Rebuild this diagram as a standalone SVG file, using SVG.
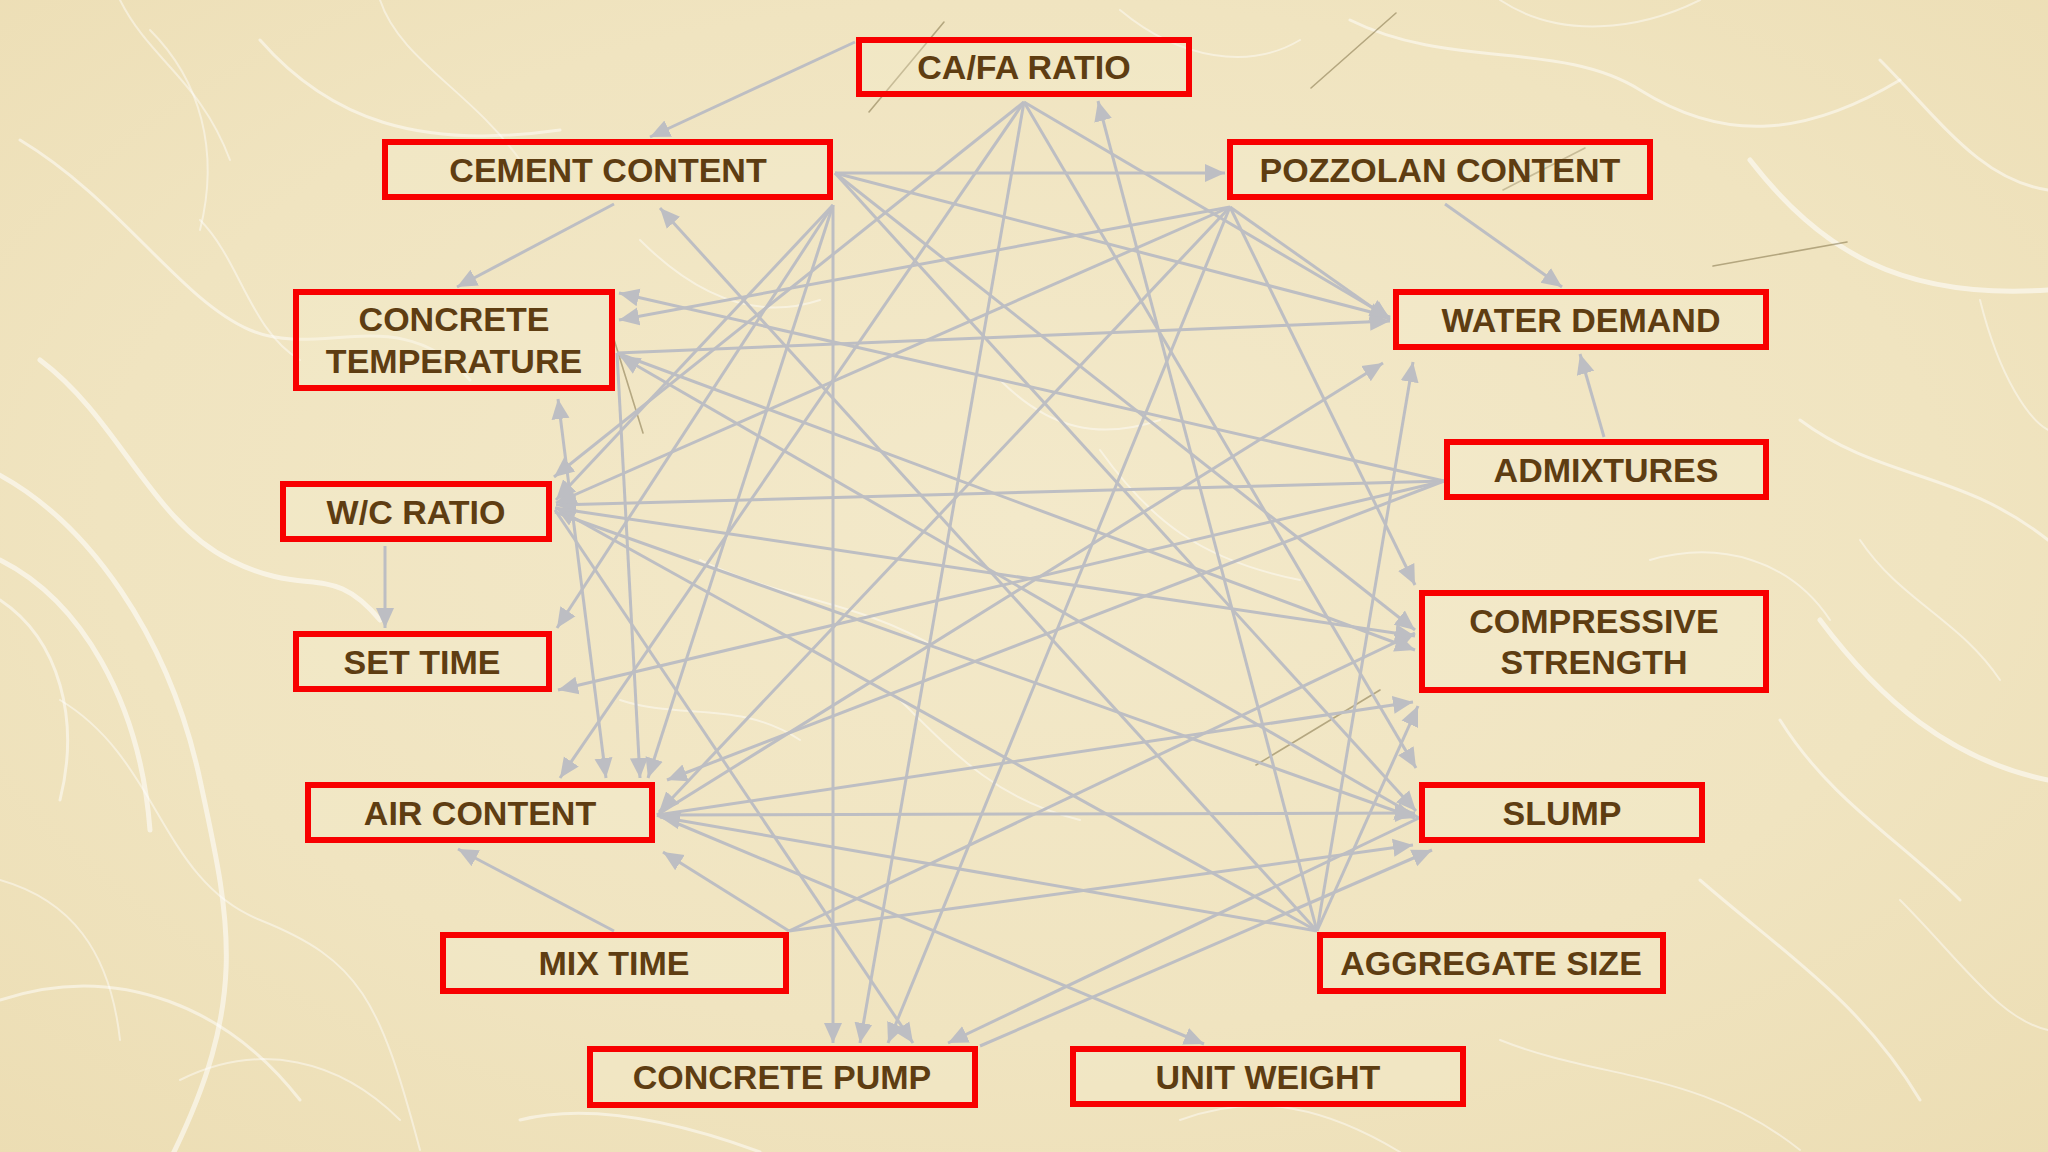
<svg xmlns="http://www.w3.org/2000/svg" width="2048" height="1152" viewBox="0 0 2048 1152">
<defs>
<radialGradient id="paper" cx="50%" cy="45%" r="75%">
<stop offset="0" stop-color="#F3E9CA"/>
<stop offset="0.6" stop-color="#F0E4C0"/>
<stop offset="1" stop-color="#ECDDB3"/>
</radialGradient>
<marker id="ah" viewBox="0 0 20 20" refX="20" refY="10" markerWidth="20" markerHeight="20" markerUnits="userSpaceOnUse" orient="auto-start-reverse">
<path d="M0,1 L20,10 L0,19 z" fill="#BDBEC3"/>
</marker>
<style>
.fib{fill:none;stroke:#FFFFFF;stroke-linecap:round}
.f1{stroke-width:5;stroke-opacity:.55}
.f2{stroke-width:3;stroke-opacity:.5}
.f3{stroke-width:2;stroke-opacity:.45}
.dk{fill:none;stroke:#6B5A2E;stroke-linecap:round;stroke-width:1.6;opacity:.45}
.box{fill:#F5EDD2;fill-opacity:.3;stroke:#F80000;stroke-width:6}
.lbl{font-family:"Liberation Sans",Arial,sans-serif;font-weight:bold;font-size:34px;fill:#5E3D12;text-anchor:middle}
#connectors line{stroke:#BDBEC3;stroke-width:3;marker-end:url(#ah)}
</style>
</defs>
<g id="background">
<rect x="0" y="0" width="2048" height="1152" fill="url(#paper)"/>
<g class="fib">
<path class="f1" d="M-10,470 C90,520 170,640 200,780 S250,1000 170,1160"/>
<path class="f1" d="M0,560 C80,600 140,700 150,830"/>
<path class="f2" d="M0,600 C60,640 80,720 60,800"/>
<path class="f1" d="M40,360 C120,420 150,520 230,560 S330,560 380,620"/>
<path class="f2" d="M20,140 C120,200 180,300 250,330 S400,300 470,380"/>
<path class="f2" d="M260,40 C330,120 420,150 560,130"/>
<path class="f3" d="M380,0 C400,60 470,90 520,160"/>
<path class="f3" d="M120,0 C150,60 200,80 230,160"/>
<path class="f2" d="M0,1000 C120,960 230,1010 300,1100"/>
<path class="f3" d="M60,700 C160,760 160,880 260,920 S380,1000 420,1150"/>
<path class="f3" d="M0,880 C70,900 110,950 120,1040"/>
<path class="f3" d="M180,1080 C260,1040 340,1060 400,1120"/>
<path class="f2" d="M520,1120 C600,1100 700,1130 760,1152"/>
<path class="f3" d="M200,220 C240,260 250,330 300,360"/>
<path class="f2" d="M1350,20 C1450,70 1560,40 1640,90 S1800,140 1900,80"/>
<path class="f3" d="M1500,0 C1560,40 1640,30 1700,0"/>
<path class="f1" d="M1750,160 C1820,250 1900,300 2048,290"/>
<path class="f2" d="M1880,60 C1940,120 1980,180 2048,190"/>
<path class="f2" d="M1800,420 C1880,480 1960,470 2048,540"/>
<path class="f1" d="M1820,620 C1880,700 1950,760 2048,780"/>
<path class="f3" d="M1860,540 C1900,600 1960,620 2000,680"/>
<path class="f2" d="M1700,880 C1780,950 1860,1000 1920,1100"/>
<path class="f3" d="M1500,1040 C1600,1080 1700,1070 1800,1150"/>
<path class="f3" d="M1900,900 C1960,960 2000,1020 2048,1030"/>
<path class="f2" d="M1780,720 C1830,800 1900,840 1960,900"/>
<path class="f3" d="M1980,300 C2000,380 2030,420 2048,430"/>
<path class="f3" d="M1120,10 C1180,60 1250,70 1300,40"/>
<path class="f3" d="M1180,1120 C1260,1090 1330,1110 1400,1152"/>
<path class="f3" d="M700,560 C780,600 860,600 940,650"/>
<path class="f3" d="M1100,450 C1150,520 1200,560 1300,580"/>
<path class="f3" d="M900,700 C960,760 1000,800 1080,820"/>
<path class="f3" d="M150,30 C200,80 220,150 200,230"/>
<path class="f3" d="M1650,560 C1720,540 1790,560 1830,620"/>
<path class="f3" d="M640,240 C700,300 760,320 820,300"/>
<path class="f3" d="M1000,380 C1050,430 1100,440 1160,420"/>
<path class="f3" d="M620,700 C680,720 740,700 800,740"/>
</g>
<path class="dk" d="M869,112 L944,22"/>
<path class="dk" d="M1311,88 L1396,13"/>
<path class="dk" stroke-width="2.2" d="M1713,266 L1847,242"/>
<path class="dk" d="M612,333 L643,433"/>
<path class="dk" d="M1256,765 L1380,690"/>
<path class="dk" stroke-width="1.2" d="M1503,190 L1585,148"/>
</g>
<g id="connectors">
<line x1="855" y1="42" x2="650" y2="137"/>
<line x1="614" y1="204" x2="457" y2="287"/>
<line x1="835" y1="173" x2="1225" y2="173"/>
<line x1="1445" y1="204" x2="1562" y2="287"/>
<line x1="1604" y1="437" x2="1580" y2="354"/>
<line x1="385" y1="546" x2="385" y2="628"/>
<line x1="614" y1="931" x2="458" y2="849"/>
<line x1="1317" y1="931" x2="1098" y2="101"/>
<line x1="1317" y1="931" x2="660" y2="208"/>
<line x1="833" y1="205" x2="833" y2="1043"/>
<line x1="1024" y1="102" x2="860" y2="1043"/>
<line x1="1230" y1="207" x2="888" y2="1043"/>
<line x1="1024" y1="102" x2="554" y2="477"/>
<line x1="835" y1="173" x2="1390" y2="317"/>
<line x1="1230" y1="207" x2="1390" y2="320"/>
<line x1="617" y1="353" x2="1390" y2="321"/>
<line x1="1024" y1="102" x2="1390" y2="318"/>
<line x1="1230" y1="207" x2="619" y2="320"/>
<line x1="1444" y1="481" x2="619" y2="293"/>
<line x1="1444" y1="481" x2="556" y2="505"/>
<line x1="1444" y1="481" x2="558" y2="690"/>
<line x1="1317" y1="931" x2="556" y2="508"/>
<line x1="606" y1="778" x2="558" y2="399" style="marker-start:url(#ah)"/>
<line x1="617" y1="353" x2="640" y2="778"/>
<line x1="833" y1="205" x2="648" y2="778"/>
<line x1="1444" y1="481" x2="667" y2="780"/>
<line x1="1024" y1="102" x2="560" y2="778"/>
<line x1="789" y1="931" x2="663" y2="852"/>
<line x1="1230" y1="207" x2="659" y2="812"/>
<line x1="657" y1="815" x2="1383" y2="363"/>
<line x1="1317" y1="931" x2="1413" y2="362"/>
<line x1="657" y1="815" x2="1415" y2="813"/>
<line x1="657" y1="815" x2="1204" y2="1044"/>
<line x1="1317" y1="931" x2="660" y2="817"/>
<line x1="657" y1="815" x2="1413" y2="702"/>
<line x1="1317" y1="931" x2="1418" y2="706"/>
<line x1="789" y1="931" x2="1415" y2="633"/>
<line x1="789" y1="931" x2="1413" y2="845"/>
<line x1="980" y1="1046" x2="1432" y2="850"/>
<line x1="1419" y1="818" x2="948" y2="1043"/>
<line x1="555" y1="510" x2="913" y2="1043"/>
<line x1="555" y1="508" x2="1415" y2="636"/>
<line x1="617" y1="353" x2="1415" y2="650"/>
<line x1="1419" y1="818" x2="620" y2="356"/>
<line x1="835" y1="173" x2="1415" y2="630"/>
<line x1="835" y1="173" x2="1416" y2="811"/>
<line x1="1230" y1="207" x2="1415" y2="585"/>
<line x1="1024" y1="102" x2="1416" y2="768"/>
<line x1="833" y1="205" x2="557" y2="628"/>
<line x1="1230" y1="207" x2="556" y2="503"/>
<line x1="833" y1="205" x2="556" y2="500"/>
<line x1="555" y1="512" x2="1415" y2="818"/>
</g>
<g id="node-cafa-ratio"><rect class="box" x="859" y="40" width="330" height="54"/><text class="lbl" x="1024" y="79">CA/FA RATIO</text></g>
<g id="node-cement-content"><rect class="box" x="385" y="142" width="445" height="55"/><text class="lbl" x="608" y="182">CEMENT CONTENT</text></g>
<g id="node-pozzolan-content"><rect class="box" x="1230" y="142" width="420" height="55"/><text class="lbl" x="1440" y="182">POZZOLAN CONTENT</text></g>
<g id="node-concrete-temperature"><rect class="box" x="296" y="292" width="316" height="96"/><text class="lbl" x="454" y="331">CONCRETE</text><text class="lbl" x="454" y="373">TEMPERATURE</text></g>
<g id="node-water-demand"><rect class="box" x="1396" y="292" width="370" height="55"/><text class="lbl" x="1581" y="332">WATER DEMAND</text></g>
<g id="node-admixtures"><rect class="box" x="1447" y="442" width="319" height="55"/><text class="lbl" x="1606" y="482">ADMIXTURES</text></g>
<g id="node-wc-ratio"><rect class="box" x="283" y="484" width="266" height="55"/><text class="lbl" x="416" y="524">W/C RATIO</text></g>
<g id="node-set-time"><rect class="box" x="296" y="634" width="253" height="55"/><text class="lbl" x="422" y="674">SET TIME</text></g>
<g id="node-compressive-strength"><rect class="box" x="1422" y="593" width="344" height="97"/><text class="lbl" x="1594" y="633">COMPRESSIVE</text><text class="lbl" x="1594" y="674">STRENGTH</text></g>
<g id="node-air-content"><rect class="box" x="308" y="785" width="344" height="55"/><text class="lbl" x="480" y="825">AIR CONTENT</text></g>
<g id="node-slump"><rect class="box" x="1422" y="785" width="280" height="55"/><text class="lbl" x="1562" y="825">SLUMP</text></g>
<g id="node-mix-time"><rect class="box" x="443" y="935" width="343" height="56"/><text class="lbl" x="614" y="975">MIX TIME</text></g>
<g id="node-aggregate-size"><rect class="box" x="1320" y="935" width="343" height="56"/><text class="lbl" x="1491" y="975">AGGREGATE SIZE</text></g>
<g id="node-concrete-pump"><rect class="box" x="590" y="1049" width="385" height="56"/><text class="lbl" x="782" y="1089">CONCRETE PUMP</text></g>
<g id="node-unit-weight"><rect class="box" x="1073" y="1049" width="390" height="55"/><text class="lbl" x="1268" y="1089">UNIT WEIGHT</text></g>
</svg>
